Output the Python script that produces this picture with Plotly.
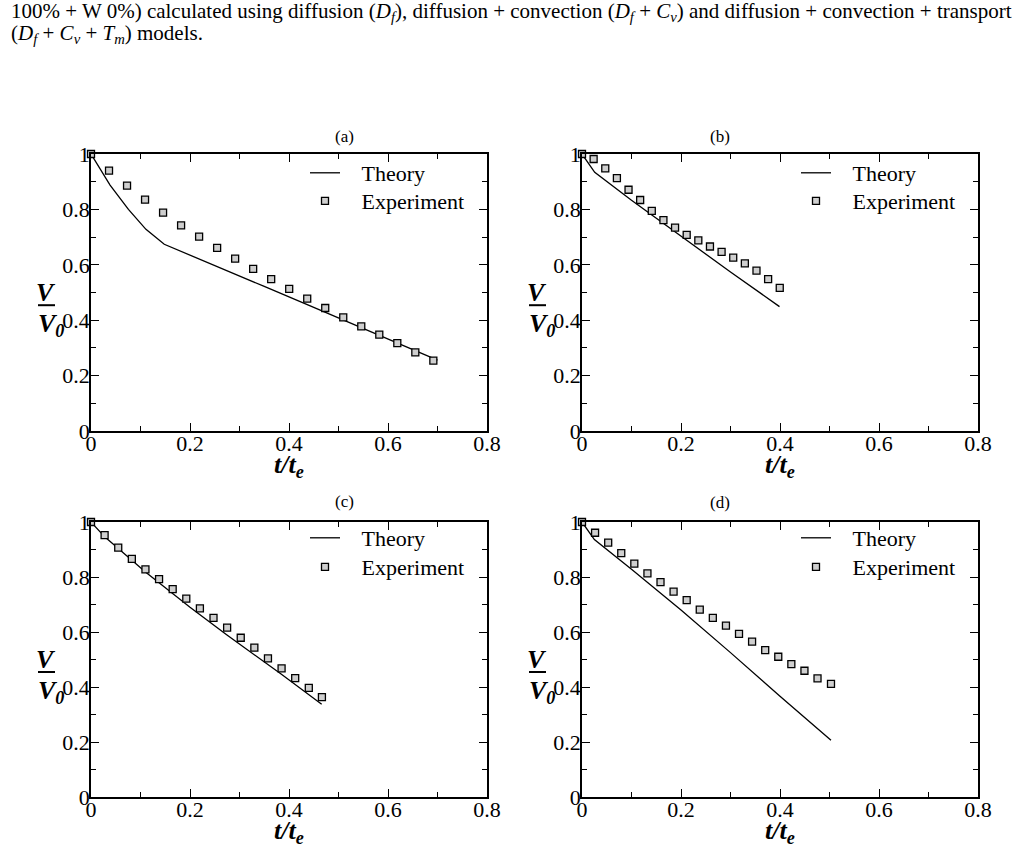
import plotly.graph_objects as go

W, H = 1026, 859

# ---------------- data ----------------
panel_labels = ["(a)", "(b)", "(c)", "(d)"]
series_names = ["Theory", "Experiment"]

# panel (a)
a_exp_x = [0.0, 0.0364, 0.0728, 0.1092, 0.1456, 0.182, 0.2184, 0.2548, 0.2912, 0.3276,
           0.364, 0.4004, 0.4368, 0.4732, 0.5096, 0.546, 0.5824, 0.6188, 0.6552, 0.6916]
a_exp_y = [1.0, 0.940, 0.886, 0.835, 0.788, 0.742, 0.702, 0.661, 0.622, 0.585,
           0.548, 0.513, 0.478, 0.444, 0.410, 0.378, 0.348, 0.317, 0.284, 0.254]
a_th_x = [0.0, 0.0385, 0.0756, 0.111, 0.148, 0.25, 0.35, 0.45, 0.55, 0.65, 0.70]
a_th_y = [1.0, 0.888, 0.800, 0.728, 0.674, 0.598, 0.522, 0.446, 0.371, 0.294, 0.256]

# panel (b)
b_exp_x = [0.0, 0.0235, 0.047, 0.0705, 0.094, 0.1175, 0.141, 0.1645, 0.188, 0.2115,
           0.235, 0.2585, 0.282, 0.3055, 0.329, 0.3525, 0.376, 0.3995]
b_exp_y = [1.0, 0.982, 0.948, 0.913, 0.871, 0.834, 0.795, 0.761, 0.734, 0.708,
           0.688, 0.666, 0.647, 0.626, 0.605, 0.579, 0.548, 0.517]
b_th_x = [0.0, 0.0257, 0.1, 0.2, 0.3, 0.399]
b_th_y = [1.0, 0.934, 0.833, 0.702, 0.574, 0.449]

# panel (c)
c_exp_x = [0.0, 0.0275, 0.055, 0.0825, 0.11, 0.1375, 0.165, 0.1925, 0.22, 0.2475,
           0.275, 0.3025, 0.33, 0.3575, 0.385, 0.4125, 0.44, 0.4665]
c_exp_y = [1.0, 0.952, 0.907, 0.866, 0.828, 0.792, 0.756, 0.721, 0.686, 0.651,
           0.616, 0.579, 0.543, 0.504, 0.468, 0.432, 0.397, 0.363]
c_th_x = [0.0, 0.0277, 0.11, 0.2, 0.274, 0.384, 0.466]
c_th_y = [1.0, 0.946, 0.818, 0.690, 0.590, 0.447, 0.337]

# panel (d)
d_exp_x = [0.0, 0.0264, 0.0529, 0.0793, 0.1057, 0.1322, 0.1586, 0.1850, 0.2115, 0.2379,
           0.2643, 0.2908, 0.3172, 0.3436, 0.3701, 0.3965, 0.4229, 0.4494, 0.4758, 0.503]
d_exp_y = [1.0, 0.961, 0.925, 0.887, 0.849, 0.813, 0.781, 0.747, 0.716, 0.681,
           0.651, 0.623, 0.593, 0.565, 0.534, 0.510, 0.483, 0.459, 0.431, 0.411]
d_th_x = [0.0, 0.025, 0.1, 0.2, 0.3, 0.4, 0.503]
d_th_y = [1.0, 0.936, 0.828, 0.680, 0.525, 0.366, 0.206]

x_tickvals = [0, 0.2, 0.4, 0.6, 0.8]
x_ticktext = ["0", "0.2", "0.4", "0.6", "0.8"]
y_tickvals = [0, 0.2, 0.4, 0.6, 0.8, 1.0]
y_ticktext = ["0", "0.2", "0.4", "0.6", "0.8", "1"]

caption_1 = ("100% + W 0%) calculated using diffusion (<i>D<sub>f</sub></i>), diffusion + convection "
             "(<i>D<sub>f</sub></i> + <i>C<sub>v</sub></i>) and diffusion + convection + transport")
caption_2 = "(<i>D<sub>f</sub></i> + <i>C<sub>v</sub></i> + <i>T<sub>m</sub></i>) models."


# ---------------- layout helpers (arguments in page pixels) ----------------
def px(x):
    return x / W


def py(y):
    return 1 - y / H


SERIF = "Liberation Serif"
PAD = "\u00a0" * 3
LEG_OFF = 23

boxes = [(91, 487, 154, 431), (582, 978, 154, 431), (91, 487, 522, 797), (582, 978, 522, 797)]
title_pos = [(344, 137), (720, 137), (344, 502), (720, 503)]
legend_rows = [(175, 203), (175, 203), (540, 569), (540, 569)]

data_sets = [
    (a_th_x, a_th_y, a_exp_x, a_exp_y),
    (b_th_x, b_th_y, b_exp_x, b_exp_y),
    (c_th_x, c_th_y, c_exp_x, c_exp_y),
    (d_th_x, d_th_y, d_exp_x, d_exp_y),
]

fig = go.Figure()
annotations = []
shapes = []
layout = {}


def ann(x, y, text, size, xanchor="center", yanchor="middle"):
    return dict(x=px(x), y=py(y), xref="paper", yref="paper", text=text,
                showarrow=False, xanchor=xanchor, yanchor=yanchor,
                font=dict(family=SERIF, size=size, color="black"))


for i, ((l, r, t, b), (thx, thy, ex, ey)) in enumerate(zip(boxes, data_sets)):
    n = "" if i == 0 else str(i + 1)
    xa = "x" + n
    ya = "y" + n
    leg_th = "legend" + ("" if i == 0 else str(2 * i + 1))
    leg_ex = "legend" + str(2 * i + 2)
    fig.add_trace(go.Scatter(x=thx, y=thy, mode="lines", name=PAD + series_names[0],
                             line=dict(color="black", width=1.3), showlegend=True,
                             xaxis=xa, yaxis=ya, legend=leg_th, cliponaxis=False))
    fig.add_trace(go.Scatter(x=ex, y=ey, mode="markers", name=PAD + series_names[1],
                             marker=dict(symbol="square", size=7, color="#cfcfcf",
                                         line=dict(color="black", width=1.3)),
                             showlegend=True,
                             xaxis=xa, yaxis=ya, legend=leg_ex, cliponaxis=False))
    common = dict(showline=True, linecolor="black", linewidth=1.5, mirror="ticks",
                  ticks="inside", ticklen=8, tickwidth=1, tickcolor="black",
                  showgrid=False, zeroline=False, automargin=False,
                  tickfont=dict(family=SERIF, size=22, color="black"),
                  minor=dict(ticks="inside", ticklen=5, tickwidth=1, tickcolor="black",
                             dtick=0.1, showgrid=False))
    layout["xaxis" + n] = dict(common, domain=[px(l), px(r)], range=[0, 0.8],
                               tickvals=x_tickvals, ticktext=x_ticktext,
                               ticklabelstandoff=-8,
                               anchor=ya, fixedrange=True)
    layout["yaxis" + n] = dict(common, domain=[py(b), py(t)], range=[0, 1],
                               tickvals=y_tickvals, ticktext=y_ticktext,
                               ticklabelstandoff=-5,
                               anchor=xa, fixedrange=True)
    # one legend per entry so each row sits where the reference has it
    row_th, row_ex = legend_rows[i]
    for leg, row in ((leg_th, row_th), (leg_ex, row_ex)):
        layout[leg] = dict(x=px(l + 214), y=py(row - LEG_OFF), xanchor="left", yanchor="top",
                           bgcolor="rgba(0,0,0,0)", borderwidth=0, visible=True,
                           font=dict(family=SERIF, size=22, color="black"),
                           tracegroupgap=0)
    # panel label
    tx, ty = title_pos[i]
    annotations.append(ann(tx, ty, panel_labels[i], 17))
    # x-axis title
    cx = (l + r) / 2
    annotations.append(ann(cx, b + 35, "<b><i>t/t<sub>e</sub></i></b>", 26))
    # y-axis title drawn as the fraction V / V0 at the 0.4 level
    y04 = b - 0.4 * (b - t)
    annotations.append(ann(l - 45, y04 - 28, "<b><i>V</i></b>", 26))
    annotations.append(ann(l - 40, y04 + 5, "<b><i>V<sub>0</sub></i></b>", 26))
    shapes.append(dict(type="line", xref="paper", yref="paper",
                       x0=px(l - 53), x1=px(l - 36), y0=py(y04 - 15), y1=py(y04 - 15),
                       line=dict(color="black", width=2)))

annotations.append(ann(9, 12, caption_1, 21, xanchor="left"))
annotations.append(ann(9, 34, caption_2, 21, xanchor="left"))

fig.update_layout(width=W, height=H, margin=dict(l=0, r=0, t=0, b=0),
                  paper_bgcolor="white", plot_bgcolor="white", showlegend=True,
                  annotations=annotations, shapes=shapes, **layout)

fig.write_html("out.html", config={"displayModeBar": False})
